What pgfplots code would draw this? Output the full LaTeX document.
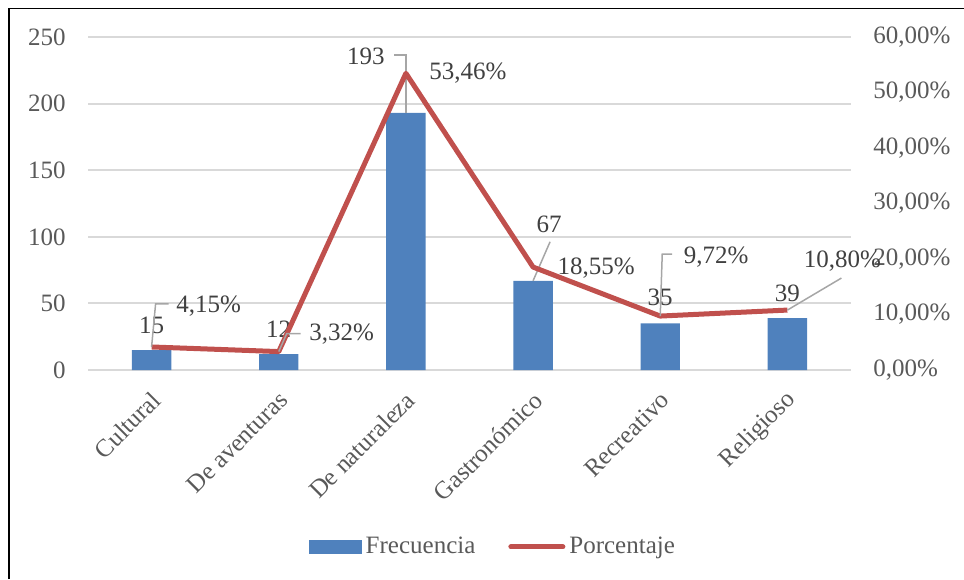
\documentclass[border=0pt]{standalone}
\usepackage{fontspec}
\setmainfont{Liberation Serif}
\usepackage{pgfplots}
\pgfplotsset{compat=1.18}

\definecolor{barblue}{HTML}{4F81BD}
\definecolor{linered}{HTML}{C0504D}
\definecolor{gridgray}{HTML}{D9D9D9}
\definecolor{ticktext}{HTML}{595959}
\definecolor{labeltext}{HTML}{404040}
\definecolor{leader}{HTML}{A6A6A6}

\tikzset{leaderline/.style={leader, line width=0.75pt}}

\pgfplotsset{
  common/.style={
    at={(44pt,-185pt)}, anchor=south west,
    scale only axis, width=381.5pt, height=166.5pt,
    xmin=-0.5, xmax=5.5,
    major tick length=0pt,
    axis line style={draw=none},
    clip=false,
    /pgf/number format/assume math mode=true,
  },
}

\begin{document}
\begin{tikzpicture}[font=\fontsize{12.5}{15}\selectfont]
\useasboundingbox (0,0) rectangle (482pt,-289.5pt);
\draw[line width=0.75pt] (4.6pt,-289.5pt) -- (4.6pt,-4.2pt) -- (482pt,-4.2pt);

% Frequencies (left axis)
\begin{axis}[
  common,
  ymin=0, ymax=250,
  axis lines=left,
  ytick={0,50,...,250},
  ymajorgrids, grid style={gridgray, line width=1pt},
  xtick={0,...,5},
  xticklabels={Cultural, De aventuras, De naturaleza, Gastronómico, Recreativo, Religioso},
  xticklabel style={xshift=2.5pt, yshift=-13pt, rotate=45, anchor=east, inner sep=0pt, text=ticktext},
  yticklabel style={anchor=east, inner sep=0pt, xshift=-11pt, text=ticktext},
]
\addplot[ybar, bar width=19.7pt, fill=barblue, draw=none]
  coordinates {(0,15) (1,12) (2,193) (3,67) (4,35) (5,39)};

\draw[leaderline] (axis cs:2,193) -- ([yshift=29pt]axis cs:2,193) -- ([xshift=-6pt,yshift=29pt]axis cs:2,193);
\draw[leaderline] (axis cs:3,67) -- ([xshift=8.5pt,yshift=19.5pt]axis cs:3,67);

\node[text=labeltext, yshift=12.5pt] at (axis cs:0,15) {15};
\node[text=labeltext, yshift=12.5pt] at (axis cs:1,12) {12};
\node[text=labeltext, xshift=-20pt, yshift=28.5pt] at (axis cs:2,193) {193};
\node[text=labeltext, xshift=8pt, yshift=28pt] at (axis cs:3,67) {67};
\node[text=labeltext, yshift=13pt] at (axis cs:4,35) {35};
\node[text=labeltext, yshift=12.5pt] at (axis cs:5,39) {39};
\end{axis}

% Percentages (right axis)
\begin{axis}[
  common,
  ymin=0, ymax=60,
  hide x axis,
  axis y line*=right,
  ytick={0,10,...,60},
  yticklabel={\pgfmathprintnumber[fixed, fixed zerofill, precision=2, use comma]{\tick}\%},
  yticklabel style={anchor=west, inner sep=0pt, text=ticktext},
  yticklabel shift=11pt,
  legend style={at={(0.532,-0.5315)}, anchor=center, draw=none, fill=none,
    legend columns=2, text=ticktext,
    /tikz/column 2/.style={column sep=14.5pt}},
]
\addlegendimage{legend image code/.code={\fill[barblue] (0pt,-3.25pt) rectangle (26pt,3.25pt);}}
\addlegendentry{Frecuencia}
\addplot[linered, line width=2.5pt, line join=round,
  legend image code/.code={\draw[linered, line width=2.5pt, line cap=round] (1.25pt,0pt) -- (27.25pt,0pt);}]
  coordinates {(0,4.15) (1,3.32) (2,53.46) (3,18.55) (4,9.72) (5,10.80)};
\addlegendentry{Porcentaje}

\draw[leaderline] (axis cs:0,4.15) -- ([xshift=2pt,yshift=21.5pt]axis cs:0,4.15) -- ([xshift=8.5pt,yshift=21.5pt]axis cs:0,4.15);
\draw[leaderline] (axis cs:1,3.32) -- ([xshift=4pt,yshift=9pt]axis cs:1,3.32) -- ([xshift=11pt,yshift=9pt]axis cs:1,3.32);
\draw[leaderline] (axis cs:4,9.72) -- ([xshift=1pt,yshift=31pt]axis cs:4,9.72) -- ([xshift=6pt,yshift=31pt]axis cs:4,9.72);
\draw[leaderline] (axis cs:5,10.80) -- ([xshift=27pt,yshift=16pt]axis cs:5,10.80);

\node[text=labeltext, xshift=28.5pt, yshift=20.5pt] at (axis cs:0,4.15) {4,15\%};
\node[text=labeltext, xshift=31.5pt, yshift=8.8pt] at (axis cs:1,3.32) {3,32\%};
\node[text=labeltext, xshift=31pt] at (axis cs:2,53.46) {53,46\%};
\node[text=labeltext, xshift=31.5pt, yshift=-0.5pt] at (axis cs:3,18.55) {18,55\%};
\node[text=labeltext, xshift=28pt, yshift=29.5pt] at (axis cs:4,9.72) {9,72\%};
\node[text=labeltext, xshift=27.5pt, yshift=24.5pt] at (axis cs:5,10.80) {10,80\%};
\end{axis}
\end{tikzpicture}
\end{document}
